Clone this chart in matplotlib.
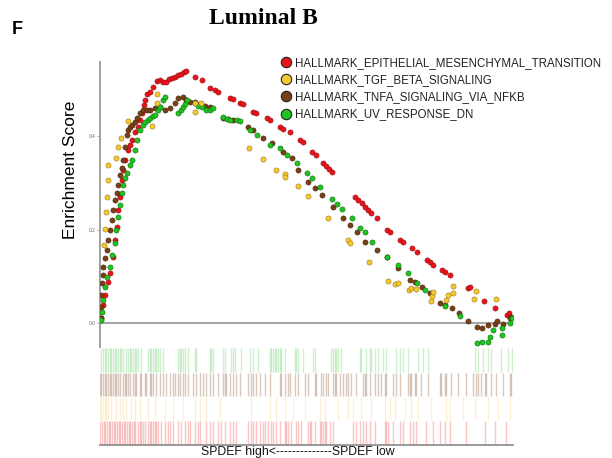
import matplotlib
matplotlib.use("Agg")
import matplotlib.pyplot as plt
from matplotlib.lines import Line2D

# ---------------- data ----------------
series_names = [
    "HALLMARK_EPITHELIAL_MESENCHYMAL_TRANSITION",
    "HALLMARK_TGF_BETA_SIGNALING",
    "HALLMARK_TNFA_SIGNALING_VIA_NFKB",
    "HALLMARK_UV_RESPONSE_DN",
]

emt_rank = [10, 30, 50, 80, 100, 130, 150, 170, 180, 200, 220, 230, 250, 280, 300, 320, 350, 380,
            400, 420, 440, 450, 470, 500, 530, 570, 600, 630, 660, 690, 720, 750, 780, 810, 840, 860,
            950, 1020, 1100, 1150, 1180, 1300, 1330, 1400, 1430, 1530, 1560, 1670, 1700, 1800, 1830,
            1900, 2000, 2030, 2120, 2160, 2230, 2260, 2290, 2320, 2550, 2580, 2620, 2650, 2680, 2710,
            2770, 2870, 2900, 3000, 3030, 3120, 3170, 3270, 3300, 3330, 3420, 3450, 3500, 3680, 3700,
            3840, 3950, 4070, 4090, 4110]
emt_es = [0.011, 0.039, 0.060, 0.088, 0.107, 0.141, 0.178, 0.205, 0.242, 0.270, 0.306, 0.327, 0.349,
          0.370, 0.381, 0.391, 0.409, 0.419, 0.434, 0.449, 0.466, 0.477, 0.490, 0.494, 0.505, 0.518,
          0.520, 0.516, 0.516, 0.522, 0.524, 0.526, 0.530, 0.533, 0.537, 0.539, 0.526, 0.520, 0.503,
          0.498, 0.494, 0.481, 0.479, 0.471, 0.468, 0.451, 0.449, 0.439, 0.434, 0.419, 0.415, 0.409,
          0.391, 0.387, 0.366, 0.359, 0.342, 0.336, 0.329, 0.323, 0.270, 0.263, 0.257, 0.248, 0.242,
          0.235, 0.225, 0.199, 0.195, 0.178, 0.173, 0.160, 0.152, 0.135, 0.130, 0.124, 0.113, 0.109,
          0.103, 0.075, 0.077, 0.047, 0.032, 0.017, 0.021, 0.013]

tgf_rank = [40, 50, 60, 70, 80, 80, 160, 180, 210, 280, 520, 570, 570, 950, 950, 1010, 1490, 1630,
            1760, 1850, 1850, 1980, 2080, 2280, 2480, 2500, 2690, 2880, 2950, 2980, 3090, 3110, 3160,
            3310, 3320, 3330, 3460, 3480, 3530, 3530, 3740, 3760, 3960]
tgf_es = [0.167, 0.201, 0.237, 0.270, 0.306, 0.338, 0.353, 0.376, 0.396, 0.432, 0.421, 0.471, 0.490,
          0.451, 0.471, 0.471, 0.374, 0.351, 0.327, 0.319, 0.312, 0.293, 0.272, 0.225, 0.178, 0.171,
          0.130, 0.090, 0.083, 0.086, 0.071, 0.075, 0.073, 0.047, 0.058, 0.066, 0.049, 0.060, 0.064,
          0.079, 0.051, 0.068, 0.051]

tnfa_rank = [5, 5, 10, 20, 30, 30, 50, 70, 80, 100, 120, 130, 150, 170, 180, 200, 220, 230, 250, 270,
             280, 300, 320, 350, 370, 400, 430, 470, 500, 550, 600, 650, 700, 750, 780, 830, 860, 900,
             950, 1000, 1050, 1100, 1230, 1280, 1330, 1480, 1530, 1630, 1720, 1830, 1920, 1980, 2080,
             2150, 2220, 2330, 2430, 2500, 2570, 2650, 2770, 2870, 2980, 3100, 3150, 3220, 3300, 3400,
             3450, 3520, 3590, 3680, 3770, 3820, 3880, 3950, 3970, 4030, 4100]
tnfa_es = [0.011, 0.034, 0.060, 0.086, 0.103, 0.120, 0.139, 0.156, 0.178, 0.199, 0.220, 0.242, 0.263,
           0.278, 0.295, 0.317, 0.332, 0.349, 0.376, 0.402, 0.413, 0.419, 0.424, 0.430, 0.439, 0.449,
           0.456, 0.456, 0.456, 0.460, 0.462, 0.456, 0.460, 0.471, 0.481, 0.483, 0.477, 0.473, 0.473,
           0.468, 0.464, 0.462, 0.439, 0.436, 0.434, 0.419, 0.413, 0.396, 0.385, 0.366, 0.353, 0.327,
           0.302, 0.289, 0.274, 0.248, 0.225, 0.210, 0.195, 0.173, 0.156, 0.141, 0.118, 0.092, 0.088,
           0.077, 0.064, 0.043, 0.039, 0.032, 0.021, 0.004, -0.009, -0.011, -0.004, -0.002, 0.004,
           -0.002, 0.011]

uv_rank = [10, 20, 30, 50, 70, 100, 120, 150, 160, 180, 200, 220, 230, 250, 270, 300, 320, 350, 370,
           400, 430, 450, 480, 500, 530, 550, 580, 600, 630, 650, 780, 810, 830, 850, 870, 950, 980,
           1020, 1060, 1100, 1130, 1230, 1270, 1300, 1370, 1400, 1500, 1570, 1700, 1800, 1870, 1970,
           2070, 2120, 2200, 2320, 2370, 2420, 2520, 2600, 2650, 2720, 2870, 2980, 3080, 3170, 3250,
           3450, 3600, 3770, 3820, 3880, 3900, 3930, 4020, 4020, 4100, 4120]
uv_es = [0.006, 0.024, 0.049, 0.077, 0.098, 0.120, 0.145, 0.171, 0.199, 0.227, 0.252, 0.278, 0.295,
         0.310, 0.321, 0.338, 0.349, 0.370, 0.391, 0.413, 0.424, 0.430, 0.434, 0.439, 0.443, 0.445,
         0.456, 0.462, 0.477, 0.483, 0.449, 0.456, 0.462, 0.468, 0.477, 0.471, 0.464, 0.462, 0.456,
         0.456, 0.460, 0.441, 0.436, 0.434, 0.434, 0.432, 0.413, 0.402, 0.381, 0.374, 0.359, 0.342,
         0.321, 0.310, 0.291, 0.265, 0.255, 0.244, 0.225, 0.203, 0.195, 0.173, 0.141, 0.124, 0.107,
         0.086, 0.071, 0.036, 0.015, -0.043, -0.041, -0.041, -0.030, -0.015, -0.026, -0.011, 0.000,
         0.011]

# hit positions (rug / barcode)
uv_hits = [7, 30, 47, 63, 80, 97, 113, 130, 147, 163, 180, 197, 213, 230, 263, 280, 297, 313, 330,
           347, 363, 380, 413, 480, 497, 513, 530, 547, 563, 580, 597, 630, 780, 797, 813, 830, 847,
           880, 947, 963, 1097, 1113, 1130, 1230, 1247, 1313, 1330, 1347, 1413, 1497, 1530, 1580,
           1697, 1713, 1730, 1747, 1763, 1780, 1797, 1813, 1847, 1947, 1963, 1980, 2030, 2130, 2147,
           2313, 2330, 2347, 2363, 2380, 2413, 2597, 2613, 2663, 2697, 2713, 2747, 2780, 2830, 2863,
           2963, 2997, 3030, 3080, 3180, 3230, 3280, 3747, 3780, 3830, 3880, 3913, 4013, 4080, 4120]
tnfa_hits = [3, 13, 30, 47, 63, 80, 97, 113, 130, 147, 163, 180, 197, 230, 247, 263, 280, 297, 330,
             347, 363, 397, 413, 447, 463, 497, 513, 530, 563, 597, 630, 663, 697, 730, 747, 780, 797,
             830, 847, 880, 930, 963, 997, 1030, 1063, 1097, 1130, 1180, 1230, 1247, 1263, 1297, 1330,
             1363, 1397, 1480, 1513, 1530, 1563, 1597, 1647, 1697, 1797, 1813, 1847, 1880, 1897, 1947,
             1980, 2047, 2080, 2147, 2163, 2213, 2230, 2263, 2280, 2330, 2347, 2363, 2397, 2430, 2463,
             2480, 2513, 2563, 2630, 2647, 2663, 2697, 2747, 2780, 2813, 2847, 2863, 2930, 2963, 2997,
             3080, 3097, 3113, 3147, 3163, 3213, 3280, 3397, 3413, 3447, 3463, 3513, 3580, 3663, 3730,
             3763, 3780, 3813, 3847, 3863, 3913, 3963, 4030, 4097, 4113]
tgf_hits = [3, 13, 30, 47, 63, 80, 113, 163, 197, 230, 263, 313, 347, 397, 480, 547, 647, 730, 830,
            947, 997, 1063, 1197, 1513, 1697, 1763, 1847, 1930, 2047, 2197, 2247, 2380, 2480, 2530,
            2613, 2713, 2847, 2897, 2947, 3047, 3113, 3180, 3313, 3463, 3497, 3630, 3747, 3880, 3980,
            4097]
emt_hits = [3, 20, 37, 53, 70, 87, 103, 120, 137, 153, 170, 187, 203, 220, 237, 253, 270, 287, 303,
            320, 337, 347, 380, 397, 413, 430, 447, 480, 497, 513, 530, 547, 563, 580, 613, 647, 680,
            697, 730, 780, 813, 847, 880, 897, 947, 980, 997, 1063, 1097, 1130, 1180, 1213, 1247, 1297,
            1330, 1363, 1480, 1513, 1530, 1563, 1597, 1630, 1647, 1680, 1713, 1730, 1763, 1797, 1847,
            1863, 1880, 1913, 1963, 1980, 2013, 2080, 2097, 2113, 2147, 2197, 2213, 2230, 2247, 2263,
            2297, 2330, 2530, 2563, 2597, 2630, 2663, 2697, 2747, 2847, 2863, 2880, 2930, 2997, 3030,
            3097, 3130, 3163, 3263, 3330, 3397, 3447, 3497, 3663, 3847, 3947, 4063]

n_genes = 4130
y_ticks = [0.0, 0.2, 0.4]
x_label = "SPDEF high<--------------SPDEF low"
y_label = "Enrichment Score"
title = "Luminal B"
panel_letter = "F"

# ---------------- style ----------------
col_red = "#e8141b"
col_yel = "#f6c830"
col_brn = "#7a4015"
col_grn = "#1fc41f"
edge_red = "#8a0b0b"
edge_yel = "#8a6d10"
edge_brn = "#3a1c06"
edge_grn = "#0c5e0c"

plt.rcParams['font.family'] = ['Liberation Sans', 'DejaVu Sans']

fig = plt.figure(figsize=(6.12, 4.58), dpi=100)

ax = fig.add_axes([100 / 612, (458 - 347) / 458, 413 / 612, (347 - 62) / 458])
ax.set_xlim(0, n_genes)
ax.set_ylim(-0.051, 0.558)
for s in ["top", "right", "bottom"]:
    ax.spines[s].set_visible(False)
ax.spines["left"].set_color("#999999")
ax.spines["left"].set_linewidth(1.3)
ax.axhline(0, color="#a6a6a6", lw=1.5, zorder=1)
ax.set_xticks([])
ax.set_yticks(y_ticks)
ax.set_yticklabels([f"{v:.1f}" for v in y_ticks], fontsize=3.5, color="#666666")
ax.tick_params(axis="y", length=2, width=0.5, color="#888888", pad=1)
ax.set_ylabel(y_label, fontsize=12.5)
ax.yaxis.set_label_coords(-0.053, 0.62)

ms = 14
lw_e = 0.35
ax.scatter(emt_rank, emt_es, s=ms, c=col_red, edgecolors=edge_red, linewidths=lw_e, zorder=3)
ax.scatter(tnfa_rank, tnfa_es, s=ms, c=col_brn, edgecolors=edge_brn, linewidths=lw_e, zorder=4)
ax.scatter(uv_rank, uv_es, s=ms, c=col_grn, edgecolors=edge_grn, linewidths=lw_e, zorder=5)
ax.scatter(tgf_rank, tgf_es, s=ms, c=col_yel, edgecolors=edge_yel, linewidths=lw_e, zorder=6)

handles = [
    Line2D([], [], ls="none", marker="o", markersize=7.5, markerfacecolor=c, markeredgecolor="#222222",
           markeredgewidth=0.8)
    for c in [col_red, col_yel, col_brn, col_grn]
]
leg = fig.legend(handles, series_names, loc="upper left", bbox_to_anchor=(279 / 612, 1 - 57 / 458),
                 frameon=False, fontsize=8.3, handletextpad=0.15, labelspacing=0.45,
                 handlelength=1.2, borderpad=0, borderaxespad=0)
for t in leg.get_texts():
    t.set_color("#222222")

# rug / barcode axes
rax = fig.add_axes([100 / 612, (458 - 445) / 458, 413 / 612, (445 - 348) / 458])
rax.set_xlim(0, n_genes)
rax.set_ylim(0, 4)
for s in ["top", "right", "left"]:
    rax.spines[s].set_visible(False)
rax.spines["bottom"].set_color("#888888")
rax.spines["bottom"].set_linewidth(1.2)
rax.set_xticks([])
rax.set_yticks([])
rug_specs = [
    (uv_hits, 3.0, 4.0, "#4cc84c", 0.28),
    (tnfa_hits, 2.0, 3.0, "#8a5a3a", 0.33),
    (tgf_hits, 1.0, 2.0, "#f2d060", 0.28),
    (emt_hits, 0.0, 1.0, "#ee3333", 0.28),
]
for hits, y0, y1, c, a in rug_specs:
    rax.vlines(hits, y0 + 0.02, y1 - 0.02, colors=c, alpha=a, lw=1.0)

fig.text(298 / 612, 1 - 452 / 458, x_label, ha="center", va="center", fontsize=8.8, color="#111111")
fig.text(263 / 612, 1 - 19 / 458, title, ha="center", va="center", fontsize=17,
         family=["Liberation Serif", "DejaVu Serif"], weight="bold")
fig.text(12 / 612, 1 - 29 / 458, panel_letter, ha="left", va="center", fontsize=13, weight="bold")

fig.savefig("out.png", dpi=100)
